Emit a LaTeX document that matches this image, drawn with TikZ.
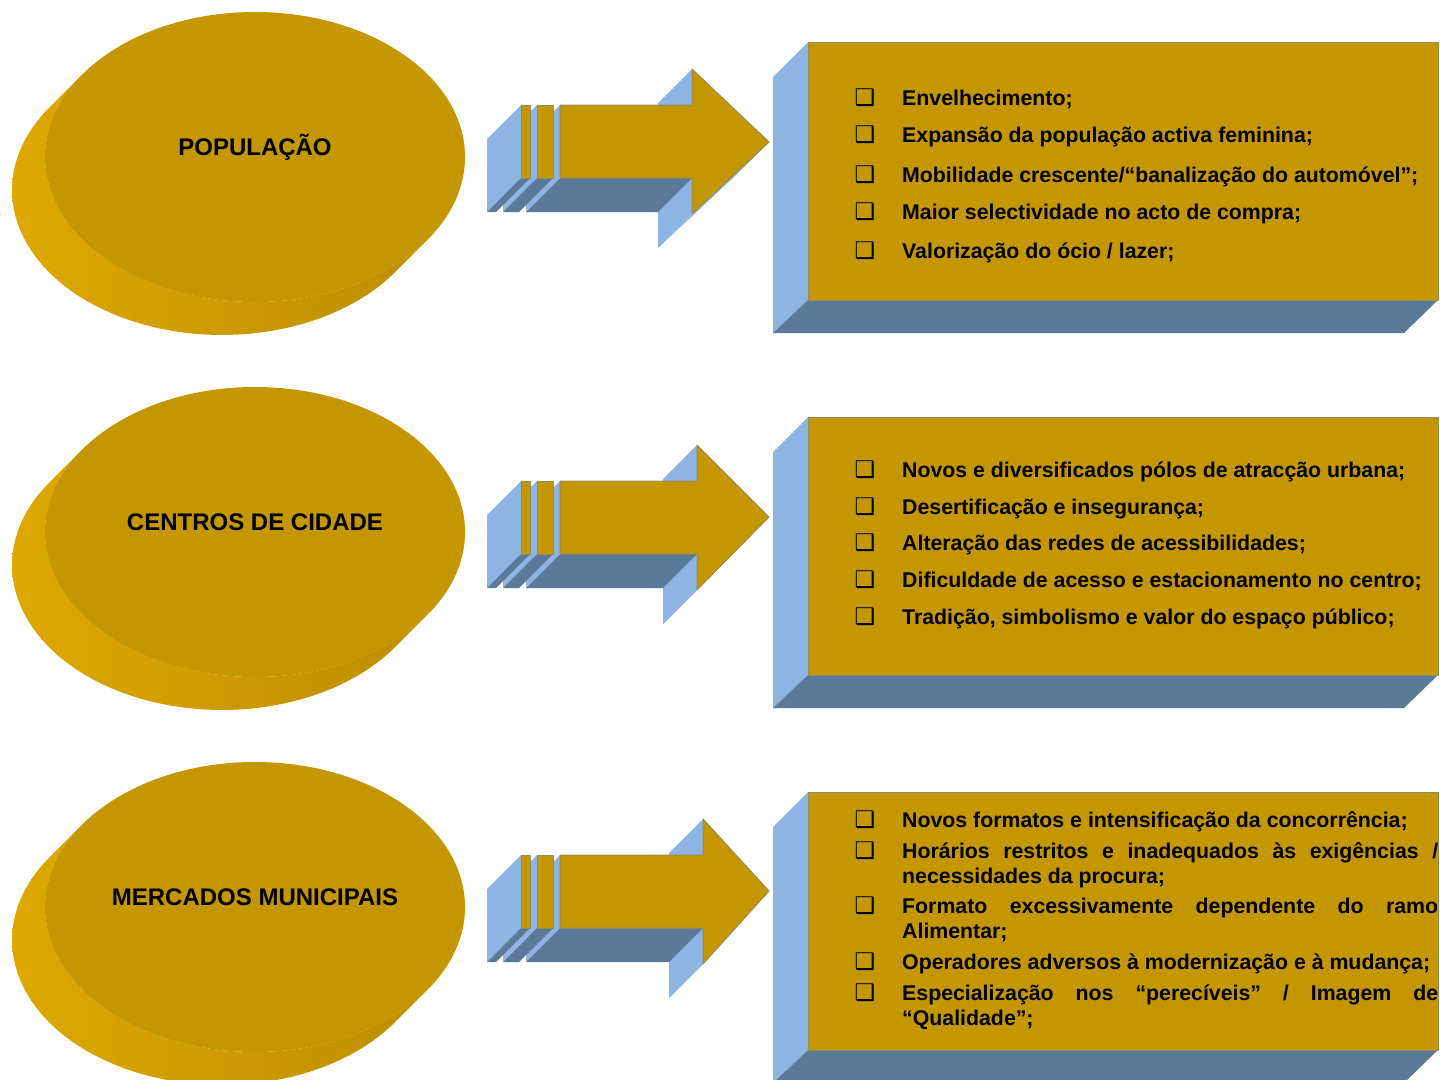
\documentclass[tikz,border=0pt]{standalone}
\usepackage{fontspec}
\setmainfont{Liberation Sans}
\newfontfamily\dingfont{DejaVu Sans}

\definecolor{ouro}{RGB}{196,150,0}
\definecolor{ourolado}{RGB}{222,168,0}
\definecolor{ouromeio}{RGB}{188,142,0}
\definecolor{ouroescuro}{RGB}{156,115,0}
\definecolor{azulclaro}{RGB}{141,180,226}
\definecolor{azulescuro}{RGB}{91,122,153}
\definecolor{contorno}{RGB}{150,140,90}

\newcommand{\semhifen}{\hyphenpenalty=10000\relax\exhyphenpenalty=10000\relax}

\tikzset{
    face/.style={fill=ouro, draw=contorno, line width=1pt, line join=round},
    lado/.style={fill=azulclaro},
    fundo/.style={fill=azulescuro},
    rotulo/.style={font=\fontsize{24}{28}\selectfont\bfseries, inner sep=0pt},
    topico/.style={font=\fontsize{21.3}{25}\selectfont\bfseries\semhifen,
        text width=536pt, align=justify, inner sep=0pt, anchor=base west},
    marca/.style={font=\dingfont\fontsize{23}{23}\selectfont, inner sep=0pt, anchor=base}
}

% disco: nome, centro y, texto
\newcommand{\disco}[3]{%
    \shade[left color=ourolado, middle color=ouroescuro, right color=ouromeio]
        plot[domain=34.6:214.6, samples=61] ({222+210*cos(\x)}, {#2+33+145*sin(\x)})
        -- plot[domain=214.6:34.6, samples=61] ({255+210*cos(\x)}, {#2+145*sin(\x)}) -- cycle;
    \fill[ouro] (255,#2) ellipse [x radius=210, y radius=145];
    \node[rotulo] (#1) at (255,#2-10) {#3};
}

% faixa: topo, x esquerdo, x direito
\newcommand{\faixa}[3]{%
    \fill[lado] (#2,#1) -- (#2-34,#1+34) -- (#2-34,#1+107) -- (#2,#1+73) -- cycle;
    \fill[fundo] (#2,#1+73) -- (#3,#1+73) -- (#3-34,#1+107) -- (#2-34,#1+107) -- cycle;
    \draw[face] (#2,#1) rectangle (#3,#1+73);
}

% seta: topo da haste, x da cabeca, y da ponta
\newcommand{\seta}[3]{%
    \fill[lado] (560,#1) -- (526,#1+34) -- (526,#1+107) -- (560,#1+73) -- cycle;
    \fill[lado] (#2,#1-36) -- (#2-34,#1-2) -- (#2-34,#1+143) -- (#2,#1+109) -- cycle;
    \fill[lado] (769,#3) -- (#2,#1+109) -- (#2-34,#1+143) -- (735,#3+34) -- cycle;
    \fill[fundo] (560,#1+73) -- (#2,#1+73) -- (#2-34,#1+107) -- (526,#1+107) -- cycle;
    \draw[face] (560,#1) -- (#2,#1) -- (#2,#1-36) -- (769,#3) -- (#2,#1+109)
        -- (#2,#1+73) -- (560,#1+73) -- cycle;
    \faixa{#1}{537}{553}
    \faixa{#1}{521}{530}
}

% caixa: topo
\newcommand{\caixa}[1]{%
    \fill[lado] (808,#1) -- (773,#1+35) -- (773,#1+291) -- (808,#1+258) -- cycle;
    \fill[fundo] (808,#1+258) -- (1438,#1+258) -- (1404,#1+291) -- (773,#1+291) -- cycle;
    \draw[face] (808,#1) rectangle (1438,#1+258);
}

% topico: nome, y da linha de base, texto
\newcommand{\topico}[3]{%
    \node[marca] (#1-m) at (865,#2) {❑};
    \node[topico] (#1) at (902,#2) {#3};
}

\begin{document}
\begin{tikzpicture}[x=1pt, y=-1pt]
    \useasboundingbox (0,0) rectangle (1440,1079);
    \clip (0,0) rectangle (1440,1079);

    % populacao
    \disco{pop}{157}{POPULAÇÃO}
    \seta{105}{692}{142}
    \caixa{42}
    \topico{pop1}{105}{Envelhecimento;}
    \topico{pop2}{142}{Expansão da população activa feminina;}
    \topico{pop3}{182}{Mobilidade crescente/“banalização do automóvel”;}
    \topico{pop4}{219}{Maior selectividade no acto de compra;}
    \topico{pop5}{258}{Valorização do ócio / lazer;}

    % centros de cidade
    \disco{cen}{532}{CENTROS DE CIDADE}
    \seta{481}{697}{517}
    \caixa{417}
    \topico{cen1}{477}{Novos e diversificados pólos de atracção urbana;}
    \topico{cen2}{514}{Desertificação e insegurança;}
    \topico{cen3}{550}{Alteração das redes de acessibilidades;}
    \topico{cen4}{587}{Dificuldade de acesso e estacionamento no centro;}
    \topico{cen5}{624}{Tradição, simbolismo e valor do espaço público;}

    % mercados municipais
    \disco{mer}{907}{MERCADOS MUNICIPAIS}
    \seta{855}{703}{891}
    \caixa{792}
    \topico{mer1}{827}{Novos formatos e intensificação da concorrência;}
    \topico{mer2}{858}{Horários restritos e inadequados às exigências / necessidades da procura;}
    \topico{mer3}{913}{Formato excessivamente dependente do ramo Alimentar;}
    \topico{mer4}{969}{Operadores adversos à modernização e à mudança;}
    \topico{mer5}{1000}{Especialização nos “perecíveis” / Imagem de “Qualidade”;}
\end{tikzpicture}
\end{document}
